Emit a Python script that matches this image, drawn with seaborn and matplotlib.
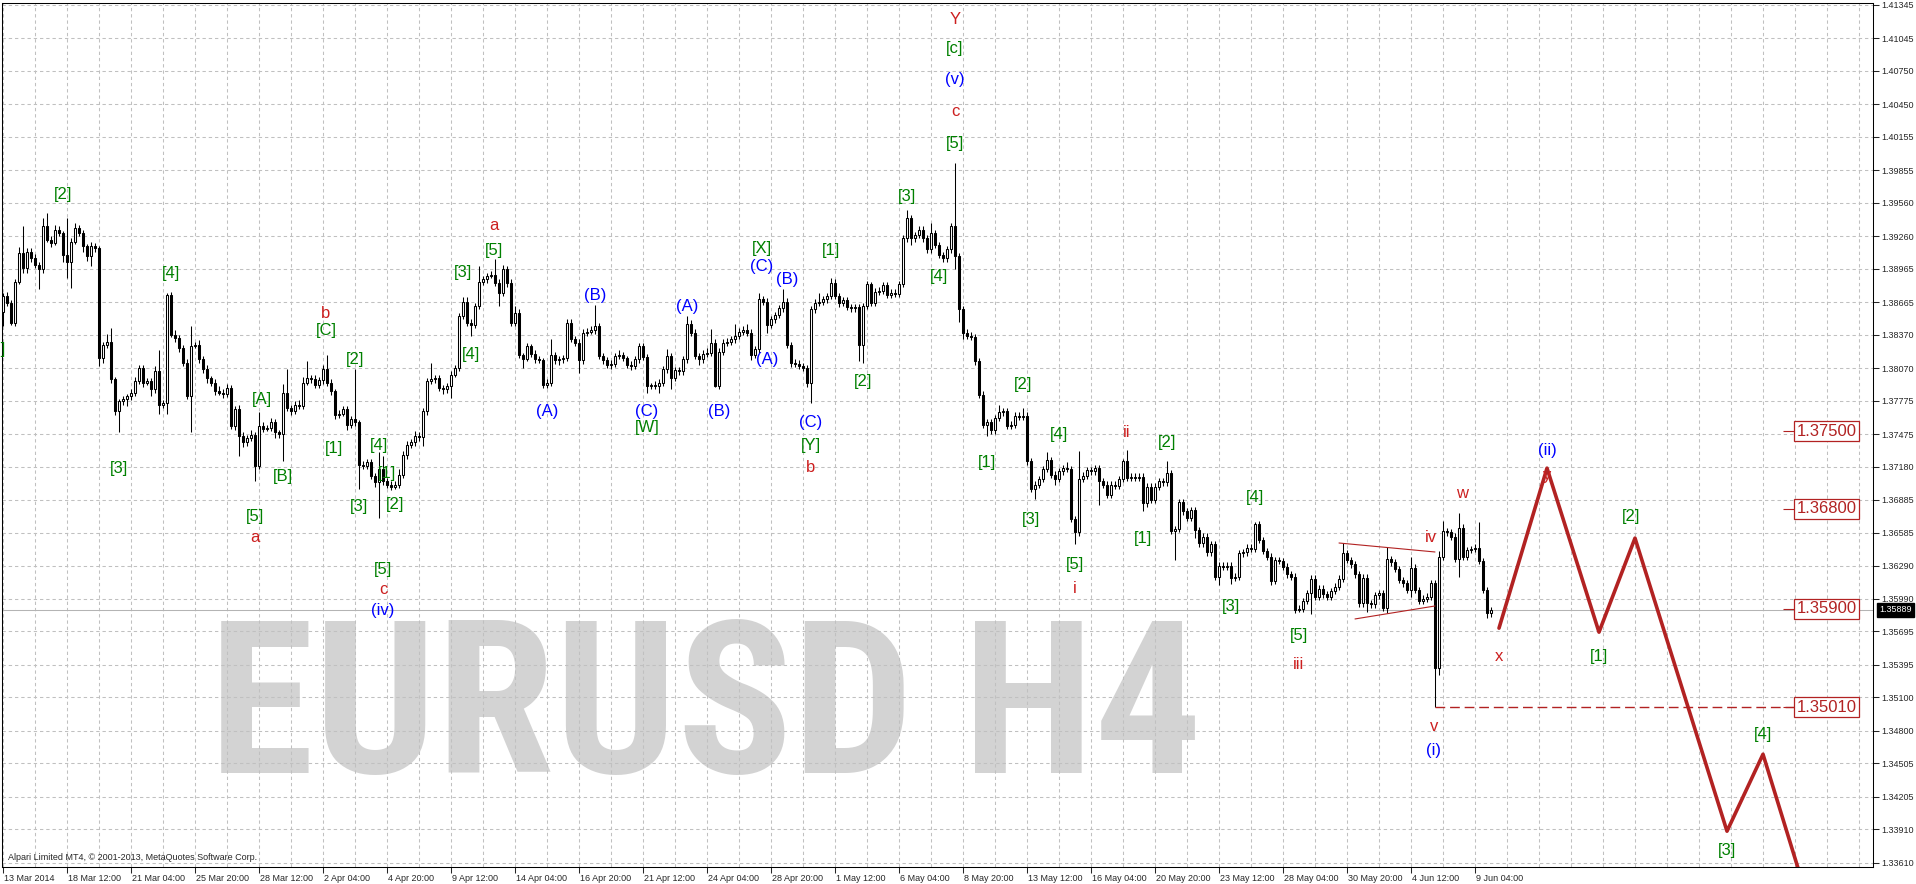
import numpy as np
import pandas as pd
import matplotlib
matplotlib.use("Agg")
import matplotlib.pyplot as plt
from matplotlib.transforms import ScaledTranslation, blended_transform_factory
import seaborn as sns

# ── H4 candles (open of each bar = previous close) ─────────────
first_open = 1.3858
close = [
    1.3872, 1.3866, 1.3848, 1.3885, 1.3911, 1.3897, 1.3912, 1.3906, 1.3900, 1.3896,
    1.3935, 1.3923, 1.3920, 1.3932, 1.3929, 1.3909, 1.3903, 1.3921, 1.3933, 1.3929,
    1.3917, 1.3908, 1.3917, 1.3915, 1.3816, 1.3828, 1.3831, 1.3797, 1.3768, 1.3777,
    1.3779, 1.3782, 1.3785, 1.3795, 1.3807, 1.3794, 1.3795, 1.3788, 1.3804, 1.3774,
    1.3776, 1.3873, 1.3837, 1.3834, 1.3825, 1.3812, 1.3782, 1.3827, 1.3828, 1.3815,
    1.3806, 1.3798, 1.3794, 1.3786, 1.3785, 1.3784, 1.3789, 1.3755, 1.3770, 1.3746,
    1.3740, 1.3744, 1.3747, 1.3719, 1.3755, 1.3752, 1.3753, 1.3758, 1.3749, 1.3748,
    1.3785, 1.3771, 1.3768, 1.3774, 1.3773, 1.3794, 1.3798, 1.3797, 1.3792, 1.3796,
    1.3806, 1.3794, 1.3786, 1.3765, 1.3766, 1.3770, 1.3756, 1.3761, 1.3758, 1.3720,
    1.3719, 1.3722, 1.3710, 1.3704, 1.3716, 1.3705, 1.3702, 1.3700, 1.3702, 1.3711,
    1.3729, 1.3738, 1.3740, 1.3746, 1.3745, 1.3768, 1.3795, 1.3797, 1.3798, 1.3789,
    1.3788, 1.3791, 1.3801, 1.3807, 1.3854, 1.3867, 1.3848, 1.3846, 1.3863, 1.3885,
    1.3887, 1.3890, 1.3891, 1.3884, 1.3875, 1.3896, 1.3884, 1.3848, 1.3857, 1.3819,
    1.3815, 1.3827, 1.3820, 1.3815, 1.3814, 1.3792, 1.3794, 1.3819, 1.3814, 1.3815,
    1.3816, 1.3848, 1.3833, 1.3830, 1.3814, 1.3839, 1.3840, 1.3841, 1.3845, 1.3818,
    1.3814, 1.3810, 1.3811, 1.3818, 1.3819, 1.3816, 1.3810, 1.3809, 1.3815, 1.3827,
    1.3817, 1.3791, 1.3792, 1.3791, 1.3794, 1.3806, 1.3818, 1.3798, 1.3805, 1.3804,
    1.3815, 1.3847, 1.3839, 1.3818, 1.3815, 1.3820, 1.3821, 1.3830, 1.3791, 1.3822,
    1.3830, 1.3831, 1.3833, 1.3836, 1.3840, 1.3841, 1.3839, 1.3819, 1.3824, 1.3869,
    1.3867, 1.3846, 1.3851, 1.3855, 1.3861, 1.3867, 1.3828, 1.3812, 1.3811, 1.3809,
    1.3807, 1.3794, 1.3860, 1.3866, 1.3867, 1.3869, 1.3872, 1.3884, 1.3872, 1.3866,
    1.3868, 1.3862, 1.3861, 1.3862, 1.3828, 1.3863, 1.3883, 1.3866, 1.3876, 1.3877,
    1.3882, 1.3873, 1.3875, 1.3874, 1.3883, 1.3924, 1.3942, 1.3924, 1.3927, 1.3932,
    1.3924, 1.3914, 1.3929, 1.3918, 1.3909, 1.3906, 1.3914, 1.3935, 1.3908, 1.3860,
    1.3839, 1.3836, 1.3835, 1.3813, 1.3783, 1.3756, 1.3758, 1.3751, 1.3762, 1.3767,
    1.3768, 1.3755, 1.3756, 1.3764, 1.3763, 1.3764, 1.3723, 1.3698, 1.3702, 1.3707,
    1.3716, 1.3724, 1.3711, 1.3707, 1.3714, 1.3717, 1.3716, 1.3671, 1.3659, 1.3707,
    1.3710, 1.3715, 1.3714, 1.3717, 1.3705, 1.3702, 1.3693, 1.3702, 1.3701, 1.3707,
    1.3723, 1.3708, 1.3709, 1.3708, 1.3709, 1.3685, 1.3700, 1.3688, 1.3700, 1.3705,
    1.3704, 1.3712, 1.3660, 1.3662, 1.3686, 1.3678, 1.3672, 1.3679, 1.3661, 1.3649,
    1.3655, 1.3641, 1.3648, 1.3619, 1.3629, 1.3628, 1.3629, 1.3618, 1.3619, 1.3640,
    1.3641, 1.3645, 1.3644, 1.3666, 1.3652, 1.3642, 1.3637, 1.3615, 1.3634, 1.3633,
    1.3628, 1.3621, 1.3619, 1.3589, 1.3590, 1.3597, 1.3604, 1.3617, 1.3601, 1.3608,
    1.3603, 1.3601, 1.3606, 1.3610, 1.3617, 1.3640, 1.3634, 1.3630, 1.3621, 1.3595,
    1.3618, 1.3595, 1.3594, 1.3602, 1.3604, 1.3591, 1.3635, 1.3632, 1.3626, 1.3616,
    1.3613, 1.3607, 1.3627, 1.3607, 1.3597, 1.3599, 1.3601, 1.3613, 1.3537, 1.3637,
    1.3660, 1.3659, 1.3655, 1.3635, 1.3663, 1.3637, 1.3643, 1.3644, 1.3645, 1.3633,
    1.3607, 1.3586, 1.3589,
]
# wick lengths above / below the body, in pips
wick_up = [
    3, 4, 2, 2, 5, 24, 3, 3, 4, 3,   7, 12, 3, 4, 3, 2, 33, 3, 5, 3,
    3, 2, 4, 3, 2, 3, 7, 12, 2, 2,   3, 2, 3, 4, 3, 3, 3, 3, 5, 19,
    2, 2, 3, 4, 3, 3, 3, 18, 3, 4,   3, 4, 2, 3, 5, 3, 4, 3, 3, 4,
    3, 3, 4, 2, 12, 3, 3, 4, 3, 2,   8, 21, 3, 3, 4, 5, 15, 3, 4, 3,
    4, 13, 3, 2, 3, 3, 3, 3, 45, 2,  3, 3, 3, 2, 15, 12, 3, 3, 3, 5,
    3, 3, 3, 4, 3, 3, 3, 15, 3, 3,   3, 3, 3, 3, 3, 4, 4, 3, 3, 14,
    3, 3, 4, 14, 3, 4, 3, 3, 6, 3,   2, 3, 2, 3, 3, 2, 3, 14, 3, 3,
    3, 3, 3, 3, 3, 3, 3, 4, 19, 3,   3, 3, 3, 3, 4, 3, 2, 3, 3, 3,
    3, 3, 2, 3, 3, 3, 6, 3, 3, 3,    3, 7, 3, 3, 3, 3, 4, 12, 3, 3,
    3, 3, 3, 11, 3, 4, 6, 3, 3, 6,   3, 3, 3, 3, 3, 11, 3, 3, 3, 3,
    3, 3, 3, 3, 8, 3, 3, 4, 3, 3,    3, 3, 3, 3, 3, 3, 3, 2, 3, 3,
    3, 3, 3, 3, 3, 3, 8, 3, 3, 3,    3, 3, 9, 3, 3, 3, 3, 3, 57, 3,
    3, 3, 4, 3, 3, 3, 3, 3, 3, 7,    3, 3, 3, 3, 3, 7, 3, 3, 3, 3,
    3, 7, 3, 3, 3, 3, 5, 3, 3, 25,   3, 3, 3, 3, 3, 3, 3, 3, 3, 3,
    2, 10, 3, 3, 3, 3, 3, 3, 3, 3,   3, 11, 3, 3, 3, 3, 3, 3, 3, 3,
    3, 3, 3, 3, 3, 3, 3, 3, 3, 3,    3, 3, 3, 2, 3, 3, 3, 3, 3, 3,
    3, 3, 3, 3, 3, 3, 3, 3, 3, 3,    3, 3, 3, 3, 3, 9, 3, 3, 3, 3,
    3, 3, 3, 3, 3, 3, 11, 3, 3, 3,   3, 3, 10, 3, 3, 3, 3, 3, 3, 5,
    9, 3, 3, 3, 13, 3, 3, 3, 3, 23,  3, 3, 3,
]
wick_dn = [
    13, 3, 2, 3, 2, 4, 4, 3, 3, 18,  3, 2, 4, 2, 3, 6, 15, 24, 2, 3,
    5, 4, 9, 3, 7, 4, 3, 3, 3, 19,   3, 6, 4, 3, 2, 4, 2, 6, 3, 8,
    3, 10, 2, 3, 3, 3, 3, 33, 2, 3,  3, 4, 3, 3, 2, 4, 3, 3, 4, 18,
    4, 3, 3, 14, 3, 3, 2, 3, 5, 4,   25, 3, 3, 2, 3, 3, 2, 3, 3, 3,
    3, 3, 3, 4, 3, 2, 5, 3, 3, 22,   3, 3, 3, 4, 32, 3, 3, 3, 2, 3,
    3, 4, 3, 3, 4, 8, 3, 2, 3, 3,    4, 3, 11, 2, 3, 3, 3, 10, 3, 3,
    3, 3, 2, 3, 12, 3, 4, 3, 3, 3,   8, 2, 3, 3, 2, 3, 3, 3, 3, 4,
    3, 3, 2, 3, 11, 3, 3, 2, 3, 3,   3, 3, 4, 3, 3, 3, 3, 4, 3, 3,
    3, 6, 3, 3, 6, 3, 3, 10, 3, 3,   3, 3, 3, 3, 5, 3, 3, 3, 1, 3,
    3, 3, 3, 3, 3, 3, 3, 5, 3, 3,    3, 7, 3, 3, 3, 3, 3, 4, 3, 3,
    3, 4, 18, 3, 3, 3, 3, 3, 3, 4,   3, 3, 3, 3, 15, 16, 3, 3, 3, 3,
    3, 3, 3, 3, 3, 3, 3, 6, 3, 3,    3, 3, 3, 3, 3, 3, 3, 3, 12, 11,
    6, 3, 3, 3, 3, 3, 10, 3, 3, 3,   3, 3, 3, 3, 3, 3, 3, 3, 9, 3,
    3, 3, 3, 5, 3, 3, 3, 3, 11, 3,   3, 3, 3, 3, 21, 3, 3, 3, 3, 3,
    3, 3, 3, 3, 3, 7, 3, 3, 3, 3,    3, 3, 3, 26, 3, 3, 3, 3, 7, 3,
    3, 3, 3, 3, 8, 3, 3, 6, 3, 3,    3, 3, 3, 3, 3, 3, 3, 4, 3, 3,
    3, 3, 3, 3, 2, 3, 3, 19, 3, 3,   3, 3, 3, 3, 3, 3, 3, 3, 3, 3,
    3, 8, 3, 3, 3, 3, 5, 3, 3, 3,    3, 3, 6, 3, 3, 3, 3, 3, 36, 7,
    3, 3, 3, 3, 16, 3, 3, 3, 3, 3,   3, 4, 3,
]

x_labels = ["13 Mar 2014", "18 Mar 12:00", "21 Mar 04:00", "25 Mar 20:00",
            "28 Mar 12:00", "2 Apr 04:00", "4 Apr 20:00", "9 Apr 12:00",
            "14 Apr 04:00", "16 Apr 20:00", "21 Apr 12:00", "24 Apr 04:00",
            "28 Apr 20:00", "1 May 12:00", "6 May 04:00", "8 May 20:00",
            "13 May 12:00", "16 May 04:00", "20 May 20:00", "23 May 12:00",
            "28 May 04:00", "30 May 20:00", "4 Jun 12:00", "9 Jun 04:00"]
y_ticks = [1.41345, 1.41045, 1.40750, 1.40450, 1.40155, 1.39855, 1.39560,
           1.39260, 1.38965, 1.38665, 1.38370, 1.38070, 1.37775, 1.37475,
           1.37180, 1.36885, 1.36585, 1.36290, 1.35990, 1.35695, 1.35395,
           1.35100, 1.34800, 1.34505, 1.34205, 1.33910, 1.33610]

last_price = 1.35889
level_prices = [1.37500, 1.36800, 1.35900, 1.35010]
support_price = 1.35010
support_bar = 358

# projected path and the triangle
zigzag_bar = [374, 386, 399, 408, 431, 440, 452]
zigzag_price = [1.35725, 1.37168, 1.35689, 1.36537, 1.33894, 1.34588, 1.33181]
tri_up_bar, tri_up_price = [334, 358], [1.36493, 1.36412]
tri_lo_bar, tri_lo_price = [338, 358], [1.35808, 1.35925]

# wave labels
green_text = ["[1]", "[2]", "[4]", "[3]", "[C]", "[2]", "[A]", "[B]", "[5]", "[1]",
              "[4]", "[1]", "[3]", "[2]", "[5]", "[3]", "[5]", "[4]", "[W]", "[X]",
              "[Y]", "[1]", "[2]", "[3]", "[4]", "[c]", "[5]", "[1]", "[2]", "[3]",
              "[4]", "[5]", "[1]", "[2]", "[3]", "[4]", "[5]", "[1]", "[2]", "[4]", "[3]"]
green_bar = [-1.5, 15, 42, 29, 80.75, 88, 64.7, 70, 63, 82.75,
             94, 96, 89, 98, 95, 115, 122.75, 117, 161, 189.75,
             202, 207, 215, 226, 234, 238, 238, 246, 255, 257,
             264, 268, 285, 291, 307, 313, 324, 399, 407, 440, 431]
green_price = [1.38234, 1.39632, 1.38919, 1.37161, 1.38405, 1.38144, 1.37783, 1.37097, 1.36728, 1.37341,
               1.37368, 1.37124, 1.36818, 1.36836, 1.36250, 1.38928, 1.39127, 1.38189, 1.37539, 1.39145,
               1.37368, 1.39127, 1.37946, 1.39614, 1.38893, 1.40957, 1.40100, 1.37215, 1.37919, 1.36701,
               1.37467, 1.36295, 1.36538, 1.37395, 1.35916, 1.36899, 1.35663, 1.35465, 1.36728, 1.34762, 1.33716]

red_text = ["b", "a", "c", "a", "b", "Y", "c", "i", "ii", "iii", "iv", "w", "x", "v", "y"]
red_bar = [80.75, 63, 95, 122.75, 202, 238, 238, 268, 281, 324, 357, 364.75, 374, 357.75, 386]
red_price = [1.38567, 1.36547, 1.36078, 1.39352, 1.37170, 1.41210, 1.40380, 1.36087,
             1.37494, 1.35393, 1.36547, 1.36935, 1.35465, 1.34834, 1.37098]

blue_text = ["(iv)", "(A)", "(B)", "(C)", "(A)", "(B)", "(C)", "(B)", "(A)", "(C)",
             "(v)", "(i)", "(ii)"]
blue_bar = [95, 136, 148, 161, 171, 179, 189.75, 196, 191, 202, 238, 357.75, 386]
blue_price = [1.35880, 1.37675, 1.38721, 1.37675, 1.38622, 1.37675, 1.38983, 1.38865,
              1.38144, 1.37584, 1.40669, 1.34626, 1.37323]

# ── style ─────────────────────────────────────────────────────
sns.set_style("white", {"axes.edgecolor": "black"})
plt.rcParams["font.family"] = ["Liberation Sans", "DejaVu Sans"]

GREEN = "#008000"
RED = "#cc1f1f"
BLUE = "#0000ff"
LINE_RED = "#b22222"
GRID = "#c0c0c0"

df = pd.DataFrame({"close": close, "up": wick_up, "dn": wick_dn})
df["bar"] = np.arange(len(df))
df["open"] = [first_open] + close[:-1]
top = df[["open", "close"]].max(axis=1)
bot = df[["open", "close"]].min(axis=1)
df["high"] = top + df["up"] * 0.0001
df["low"] = bot - df["dn"] * 0.0001
bull = df["close"] >= df["open"]

fig = plt.figure(figsize=(19.16, 8.84), dpi=100)
ax = fig.add_axes([2 / 1916, 17 / 884, 1871 / 1916, 864 / 884])
ax.set_xlim(-0.25, 467.5)
ax.set_ylim(1.33571, 1.41363)

# watermark
ax.text(175.75, 1.3442, "EURUSD H4", family=["Roboto Condensed", "Roboto", "Liberation Sans"],
        fontsize=154, fontweight="bold", color="#d3d3d3", ha="center", va="baseline", zorder=0.1)

# grid
ax.set_axisbelow(True)
ax.set_xticks(np.arange(len(x_labels)) * 16)
ax.set_xticklabels(x_labels, ha="left", fontsize=6.5)
ax.set_xticks(np.arange(0, 468, 8), minor=True)
ax.set_yticks(y_ticks)
ax.set_yticklabels([f"{v:.5f}" for v in y_ticks], fontsize=6.5)
ax.yaxis.tick_right()
ax.grid(True, which="both", color=GRID, linestyle=(0, (3.2, 2.8)), linewidth=0.75)
ax.tick_params(axis="x", which="major", bottom=True, direction="out", length=4, width=0.75, pad=1)
ax.tick_params(axis="x", which="minor", bottom=False, length=0)
ax.tick_params(axis="y", right=True, left=False, direction="out", length=4, width=0.75, pad=2)
off = ScaledTranslation(1 / 100, 0, fig.dpi_scale_trans)
for lab in ax.get_xticklabels():
    lab.set_transform(lab.get_transform() + off)
for sp in ax.spines.values():
    sp.set_color("black")
    sp.set_linewidth(0.75)

# current price line
ax.axhline(last_price, color="#b4b4b4", linewidth=0.75, zorder=1)

# candles
ax.vlines(df["bar"], df["low"], df["high"], color="black", linewidth=0.75, zorder=2)
ax.bar(df["bar"][bull], (top - bot)[bull], bottom=bot[bull], width=0.5,
       color="white", edgecolor="black", linewidth=0.75, zorder=3)
ax.bar(df["bar"][~bull], (top - bot)[~bull], bottom=bot[~bull], width=0.5,
       color="black", edgecolor="black", linewidth=0.75, zorder=3)

# triangle, support and projection
sns.lineplot(x=tri_up_bar, y=tri_up_price, color=LINE_RED, linewidth=0.8, ax=ax, zorder=4)
sns.lineplot(x=tri_lo_bar, y=tri_lo_price, color=LINE_RED, linewidth=0.8, ax=ax, zorder=4)
ax.hlines(support_price, support_bar, 447.75, color=LINE_RED, linewidth=1.0,
          linestyle=(0, (7, 3.5)), zorder=4)
sns.lineplot(x=zigzag_bar, y=zigzag_price, color=LINE_RED, linewidth=2.6,
             sort=False, estimator=None, ax=ax, zorder=4)

# price boxes
for p in level_prices:
    ax.hlines(p, 445, 447.75, color=LINE_RED, linewidth=0.8, zorder=5)
    ax.text(448.4, p, f"{p:.5f}", color=LINE_RED, fontsize=12, ha="left", va="center",
            zorder=6, bbox=dict(boxstyle="square,pad=0.15", fc="white", ec=LINE_RED, lw=0.9))

# wave labels
for texts, bars, prices, col in [(green_text, green_bar, green_price, GREEN),
                                 (red_text, red_bar, red_price, RED),
                                 (blue_text, blue_bar, blue_price, BLUE)]:
    for t, b, p in zip(texts, bars, prices):
        ax.text(b, p, t, color=col, fontsize=12, ha="center", va="center", zorder=7)

# last price tag on the axis
tr = blended_transform_factory(ax.transAxes, ax.transData)
ax.text(1.0032, last_price, f"{last_price:.5f}", transform=tr, color="white", fontsize=6.5,
        ha="left", va="center", clip_on=False, zorder=8,
        bbox=dict(boxstyle="square,pad=0.25", fc="black", ec="black"))

ax.text(0.003, 0.006, "Alpari Limited MT4, \u00a9 2001-2013, MetaQuotes Software Corp.",
        transform=ax.transAxes, fontsize=6.5, ha="left", va="bottom", zorder=8)

fig.savefig("out.png", dpi=100, facecolor="white")
